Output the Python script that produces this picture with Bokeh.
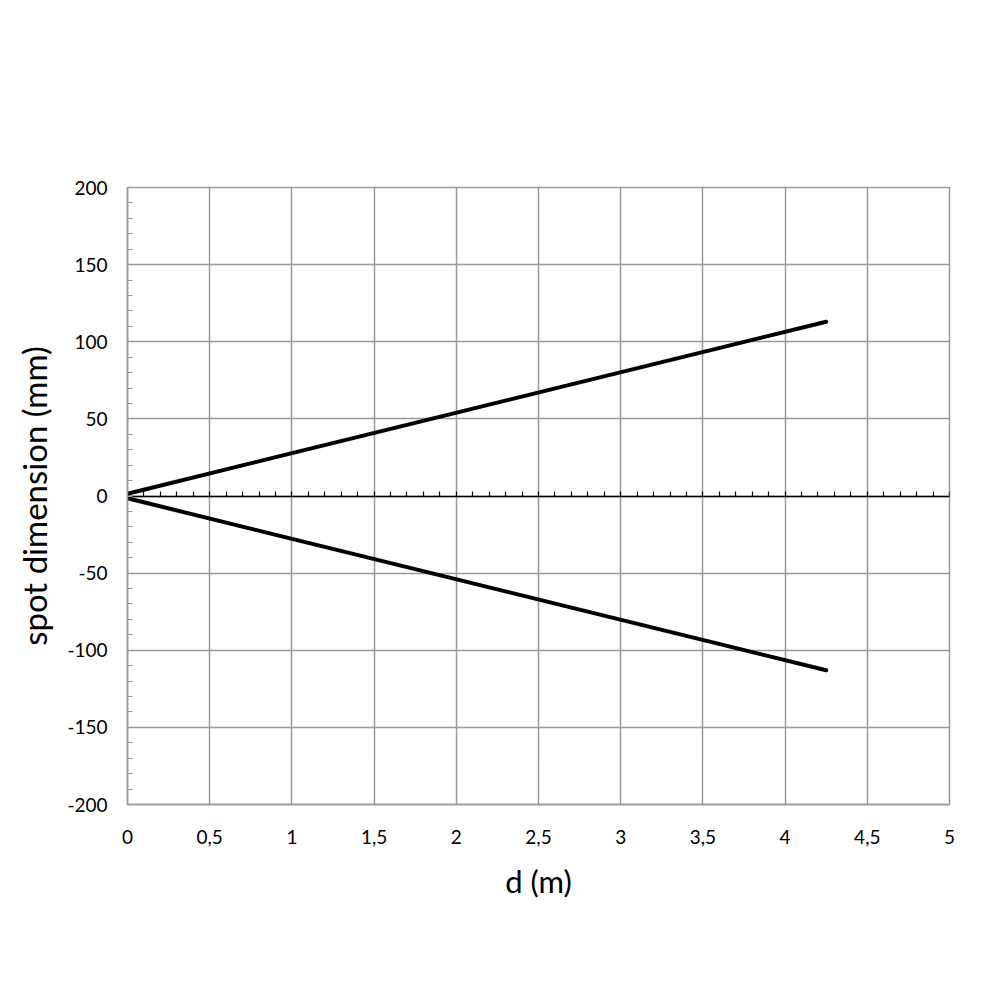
from bokeh.plotting import figure
from bokeh.models import LinearAxis, FixedTicker, Range1d
from bokeh.embed import file_html
from bokeh.resources import INLINE

# data
d_m = [0.0, 4.25]
upper_mm = [1.5, 113.0]
lower_mm = [-1.5, -113.0]
x_ticks = [0, 0.5, 1, 1.5, 2, 2.5, 3, 3.5, 4, 4.5, 5]
x_labels = ["0", "0,5", "1", "1,5", "2", "2,5", "3", "3,5", "4", "4,5", "5"]
y_ticks = [-200, -150, -100, -50, 0, 50, 100, 150, 200]
y_labels = ["-200", "-150", "-100", "-50", "0", "50", "100", "150", "200"]
y_minor = list(range(-200, 201, 10))
x_minor = [round(i * 0.1, 1) for i in range(0, 51)]

FONT = "Lato"
W, H = 990, 990
p = figure(width=W, height=H, output_backend="svg", toolbar_location=None,
           x_range=Range1d(0, 5), y_range=Range1d(-200, 200),
           min_border_left=127, min_border_right=W - 949, min_border_top=187, min_border_bottom=H - 804,
           x_axis_location=None, y_axis_location=None)
p.outline_line_color = "#999999"
p.outline_line_width = 1.5
p.background_fill_color = "white"
p.border_fill_color = "white"

# bottom labeled axis
xa = LinearAxis(ticker=FixedTicker(ticks=x_ticks))
xa.major_label_overrides = {t: l for t, l in zip(x_ticks, x_labels)}
xa.axis_line_color = "#999999"
xa.axis_line_width = 1.5
xa.major_tick_line_color = None
xa.minor_tick_line_color = None
xa.major_label_text_font = FONT
xa.major_label_text_font_size = "19px"
xa.major_label_text_color = "black"
xa.major_label_standoff = 19
xa.axis_label = "d (m)"
xa.axis_label_text_font = FONT
xa.axis_label_text_font_style = "normal"
xa.axis_label_text_font_size = "31px"
xa.axis_label_text_color = "black"
xa.axis_label_standoff = 15
p.add_layout(xa, "below")

# zero-line axis with ticks pointing up
za = LinearAxis(ticker=FixedTicker(ticks=x_minor), fixed_location=0)
za.axis_line_color = "black"
za.axis_line_width = 1.5
za.major_tick_in = 5
za.major_tick_out = 0
za.major_tick_line_color = "black"
za.major_tick_line_width = 1.2
za.minor_tick_line_color = None
za.major_label_text_font_size = "0px"
za.major_label_text_color = None
p.add_layout(za, "below")

# left axis
ya = LinearAxis(ticker=FixedTicker(ticks=y_ticks, minor_ticks=y_minor))
ya.major_label_overrides = {t: l for t, l in zip(y_ticks, y_labels)}
ya.axis_line_color = "#999999"
ya.axis_line_width = 1.5
ya.major_tick_line_color = None
ya.minor_tick_in = 5
ya.minor_tick_out = 0
ya.minor_tick_line_color = "#999999"
ya.minor_tick_line_width = 1.2
ya.major_label_text_font = FONT
ya.major_label_text_font_size = "19px"
ya.major_label_text_color = "black"
ya.major_label_standoff = 14
ya.axis_label = "spot dimension (mm)"
ya.axis_label_text_font = FONT
ya.axis_label_text_font_style = "normal"
ya.axis_label_text_font_size = "33px"
ya.axis_label_text_color = "black"
ya.axis_label_standoff = 10
p.add_layout(ya, "left")

p.xgrid.ticker = FixedTicker(ticks=x_ticks)
p.ygrid.ticker = FixedTicker(ticks=y_ticks)
for g in (p.xgrid, p.ygrid):
    g.grid_line_color = "#999999"
    g.grid_line_width = 1.5

p.line(d_m, upper_mm, line_color="black", line_width=4, line_cap="round")
p.line(d_m, lower_mm, line_color="black", line_width=4, line_cap="round")

open("out.html", "w").write(file_html(p, INLINE))
